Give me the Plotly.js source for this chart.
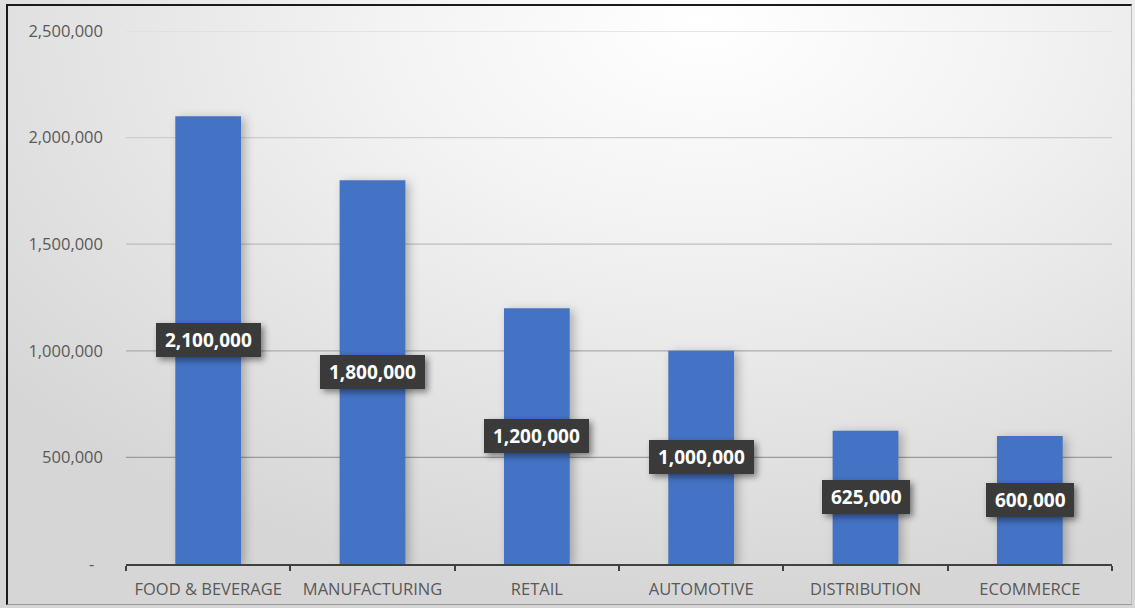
<!DOCTYPE html>
<html>
<head>
<meta charset="utf-8">
<script src="https://cdn.plot.ly/plotly-3.0.1.min.js"></script>
<style>
  html, body { margin: 0; padding: 0; }
  body { width: 1135px; height: 608px; overflow: hidden; position: relative;
    background: radial-gradient(ellipse 80% 95% at 62% 4%, #ffffff 0%, #f3f3f3 35%, #e3e3e3 70%, #d6d6d6 100%); }
  #chart { position: absolute; left: 0; top: 0; width: 1135px; height: 608px; }
  #frame { position: absolute; left: 6px; top: 4px; width: 1126px; height: 601px;
    border: 2px solid #1a1a1a; border-right: 1px solid #bdbdbd; border-bottom: 1px solid #999; box-sizing: border-box; pointer-events: none; }
  .annotation rect.bg { filter: drop-shadow(3px 3px 3px rgba(0,0,0,0.45)); }
  .trace.bars .point path { filter: drop-shadow(4px 2px 5px rgba(0,0,0,0.25)); }
</style>
</head>
<body>
<div id="chart"></div>
<div id="frame"></div>
<script>
const categories = ["FOOD & BEVERAGE", "MANUFACTURING", "RETAIL", "AUTOMOTIVE", "DISTRIBUTION", "ECOMMERCE"];
const values = [2100000, 1800000, 1200000, 1000000, 625000, 600000];
const tickValues = [0, 500000, 1000000, 1500000, 2000000, 2500000];
const tickLabels = ["-\u00a0\u00a0", "500,000", "1,000,000", "1,500,000", "2,000,000", "2,500,000"];

const fmt = v => v.toLocaleString("en-US");
const yMax = tickValues[tickValues.length - 1];

function mix(a, b, t) {
  const pa = [parseInt(a.slice(1,3),16), parseInt(a.slice(3,5),16), parseInt(a.slice(5,7),16)];
  const pb = [parseInt(b.slice(1,3),16), parseInt(b.slice(3,5),16), parseInt(b.slice(5,7),16)];
  return "rgb(" + pa.map((x, i) => Math.round(x + (pb[i] - x) * t)).join(",") + ")";
}

const gridShapes = tickValues.filter(v => v > 0).map(v => ({
  type: "line", xref: "paper", yref: "y", x0: 0, x1: 1, y0: v, y1: v,
  line: { color: mix("#8a8a8a", "#dedede", v / yMax), width: 1.3 },
  layer: "below"
}));

const labelAnn = categories.map((c, i) => ({
  x: c, y: values[i] / 2, xref: "x", yref: "y",
  text: "\u00a0<b>" + fmt(values[i]) + "</b>\u00a0", showarrow: false,
  font: { family: "Open Sans, Liberation Sans, sans-serif", size: 19, color: "#ffffff" },
  bgcolor: "#3a3a3a", borderpad: 4, borderwidth: 0
}));

const data = [{
  type: "bar", x: categories, y: values,
  marker: { color: "#4472C4", line: { width: 0 } },
  hoverinfo: "skip"
}];

const layout = {
  width: 1135, height: 608,
  margin: { l: 126, r: 23, t: 31, b: 44 },
  paper_bgcolor: "rgba(0,0,0,0)", plot_bgcolor: "rgba(0,0,0,0)",
  bargap: 0.6,
  showlegend: false,
  font: { family: "Open Sans, Liberation Sans, sans-serif", color: "#595959" },
  xaxis: {
    type: "category", showgrid: false, zeroline: false,
    showline: true, linecolor: "#404040", linewidth: 2,
    ticks: "outside", tickson: "boundaries", ticklen: 5, tickwidth: 2, tickcolor: "#404040",
    ticklabelstandoff: 9,
    tickfont: { size: 16.5, color: "#595959" }
  },
  yaxis: {
    range: [0, yMax], showgrid: false, zeroline: false, showline: false,
    tickmode: "array", tickvals: tickValues, ticktext: tickLabels,
    ticks: "", ticklabelstandoff: 22,
    tickfont: { size: 16.5, color: "#595959" }
  },
  shapes: gridShapes,
  annotations: labelAnn
};

Plotly.newPlot("chart", data, layout, { displayModeBar: false, staticPlot: true });
</script>
</body>
</html>
